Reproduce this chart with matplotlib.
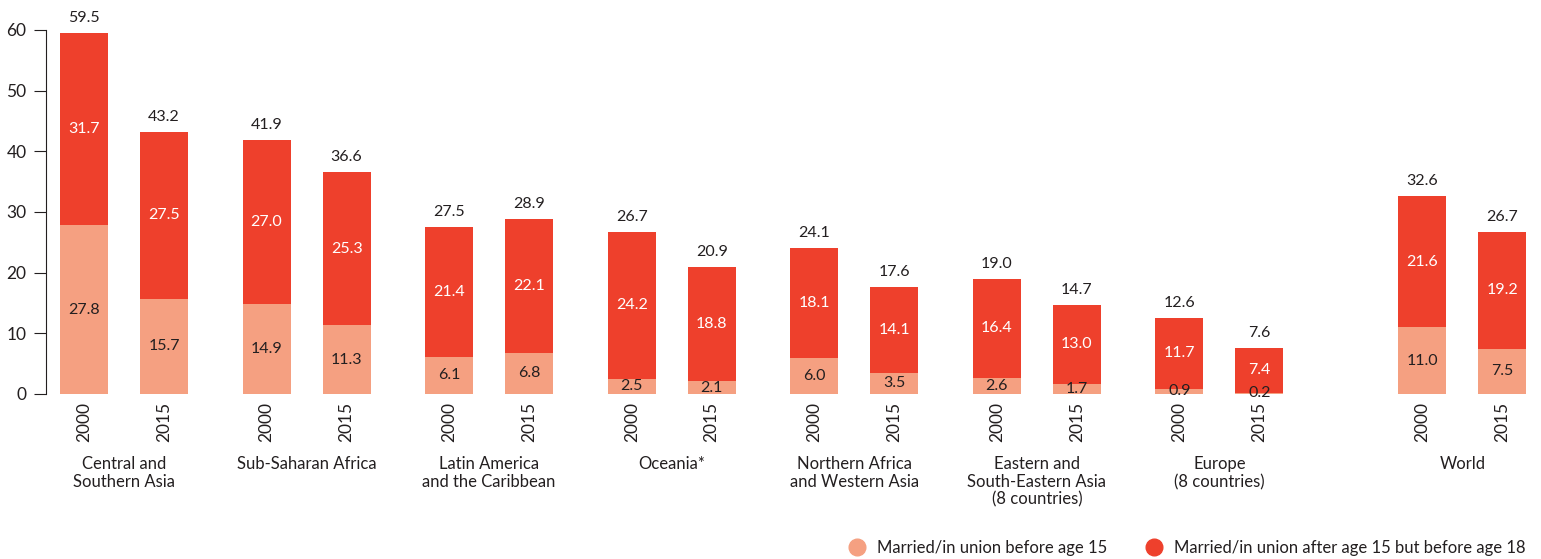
import numpy as np
import matplotlib.pyplot as plt
from matplotlib.lines import Line2D

plt.rcParams['font.family'] = ['Lato', 'DejaVu Sans']

# data
regions = ['Central and\nSouthern Asia', 'Sub-Saharan Africa', 'Latin America\nand the Caribbean',
           'Oceania*', 'Northern Africa\nand Western Asia', 'Eastern and\nSouth-Eastern Asia\n(8 countries)',
           'Europe\n(8 countries)', 'World']
years = ['2000', '2015']
before15_2000 = [27.8, 14.9, 6.1, 2.5, 6.0, 2.6, 0.9, 11.0]
before15_2015 = [15.7, 11.3, 6.8, 2.1, 3.5, 1.7, 0.2, 7.5]
after15_2000 = [31.7, 27.0, 21.4, 24.2, 18.1, 16.4, 11.7, 21.6]
after15_2015 = [27.5, 25.3, 22.1, 18.8, 14.1, 13.0, 7.4, 19.2]
total_2000 = [59.5, 41.9, 27.5, 26.7, 24.1, 19.0, 12.6, 32.6]
total_2015 = [43.2, 36.6, 28.9, 20.9, 17.6, 14.7, 7.6, 26.7]

light = '#F5A081'
dark = '#EE402C'
txt = '#231F20'

W, H = 1541, 559
fig = plt.figure(figsize=(W / 100, H / 100), dpi=100)
ax = fig.add_axes([46 / W, 165 / H, (W - 46) / W, 364 / H])

group_x = np.array([0, 1, 2, 3, 4, 5, 6, 7.33])
off = 0.438
bw = 0.263

for k, (b, a, t) in enumerate([(before15_2000, after15_2000, total_2000),
                                (before15_2015, after15_2015, total_2015)]):
    xs = group_x + k * off
    ax.bar(xs, b, width=bw, color=light, linewidth=0)
    ax.bar(xs, a, bottom=b, width=bw, color=dark, linewidth=0)
    for x, bv, av, tv in zip(xs, b, a, t):
        ax.text(x, bv / 2, f'{bv:.1f}', ha='center', va='center', fontsize=11.5, color=txt)
        ax.text(x, bv + av / 2, f'{av:.1f}', ha='center', va='center', fontsize=11.5, color='white')
        ax.text(x, tv + 1.3, f'{tv:.1f}', ha='center', va='bottom', fontsize=11.5, color=txt, clip_on=False)

ticks = np.concatenate([group_x, group_x + off])
ax.set_xticks(ticks)
ax.set_xticklabels([years[0]] * 8 + [years[1]] * 8, rotation=90, fontsize=12.5, color=txt)
ax.tick_params(axis='x', length=0, pad=6)

for gx, name in zip(group_x, regions):
    ax.text(gx + off / 2, -10.2, name, ha='center', va='top', fontsize=12, color=txt,
            linespacing=1.15, clip_on=False)

ax.set_xlim(-0.208, 7.98)
ax.set_ylim(0, 60)
ax.set_yticks(range(0, 61, 10))
ax.tick_params(axis='y', length=9, width=0.8, labelsize=12.5, colors=txt, pad=5)
for s in ['top', 'right', 'bottom']:
    ax.spines[s].set_visible(False)
ax.spines['left'].set_linewidth(0.8)
ax.spines['left'].set_color(txt)

handles = [Line2D([], [], marker='o', linestyle='', markersize=12, color=light),
           Line2D([], [], marker='o', linestyle='', markersize=12, color=dark)]
fig.legend(handles, ['Married/in union before age 15', 'Married/in union after age 15 but before age 18'],
           loc='lower right', bbox_to_anchor=(1.0, -0.022), ncol=2, frameon=False, fontsize=12,
           handletextpad=0.2, columnspacing=1.8, labelcolor=txt)

fig.savefig('out.png', dpi=100)
